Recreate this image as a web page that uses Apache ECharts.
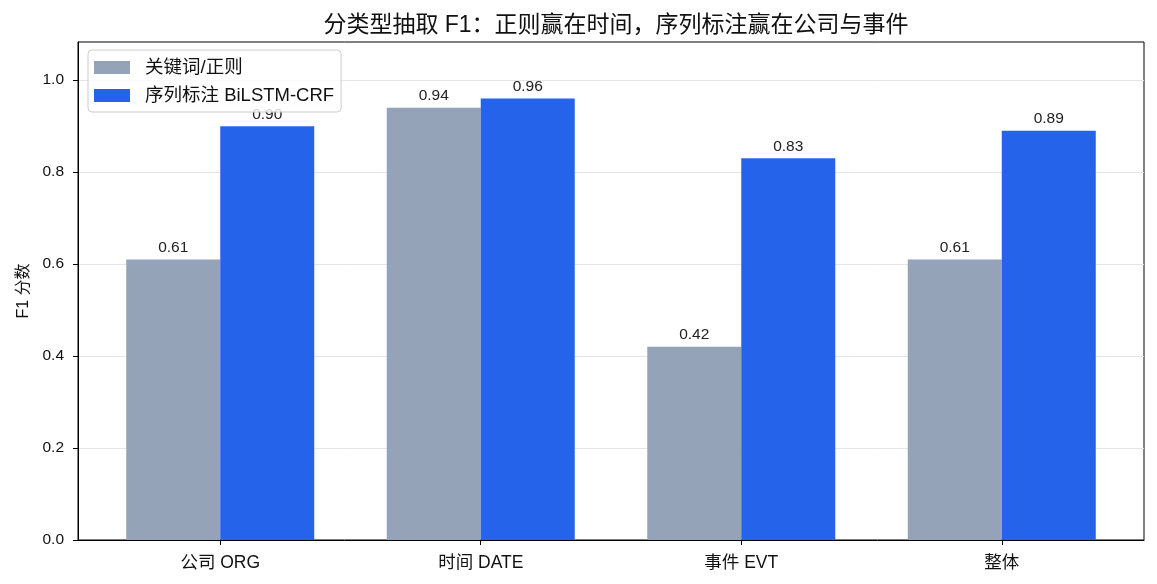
<!DOCTYPE html>
<html><head><meta charset="utf-8">
<script src="https://cdn.jsdelivr.net/npm/echarts@6/dist/echarts.min.js"></script>
<style>html,body{margin:0;padding:0;background:#fff}#c{width:1157px;height:584px}</style>
</head><body><div id="c"></div>
<script>
const categories = ['公司 ORG', '时间 DATE', '事件 EVT', '整体'];
const seriesNames = ['关键词/正则', '序列标注 BiLSTM-CRF'];
const ruleValues = [0.61, 0.94, 0.42, 0.61];
const crfValues = [0.90, 0.96, 0.83, 0.89];
const yTicks = [0, 0.2, 0.4, 0.6, 0.8, 1.0];
const titleText = '分类型抽取 F1：正则赢在时间，序列标注赢在公司与事件';
const yName = 'F1 分数';

const FONT = '"Liberation Sans", "Noto Sans CJK SC", sans-serif';
const chart = echarts.init(document.getElementById('c'), null, {renderer: 'canvas'});
const pos = categories.map((_, i) => i);
const mk = vals => vals.map((v, i) => [pos[i], v]);
const labelCfg = {show: true, position: 'top', distance: 4, color: '#222', fontSize: 15.5, fontFamily: FONT,
  formatter: p => p.value[1].toFixed(2)};
chart.setOption({
  animation: false,
  title: {text: titleText, left: 611, textAlign: 'center', top: 9,
    textStyle: {fontFamily: FONT, fontSize: 23, fontWeight: 'normal', color: '#111'}},
  grid: {left: 78, top: 42, width: 1066, height: 498, show: true, borderColor: '#000', borderWidth: 1, backgroundColor: 'transparent'},
  legend: {orient: 'vertical', left: 88, top: 50, itemWidth: 36, itemHeight: 13, itemGap: 7,
    padding: [7, 7, 6, 6], backgroundColor: 'rgba(255,255,255,0.8)', borderColor: '#ccc', borderWidth: 1, borderRadius: 4,
    textStyle: {fontFamily: FONT, fontSize: 18.5, color: '#111', lineHeight: 21, padding: [0, 0, 0, 10]}, icon: 'rect', data: seriesNames},
  xAxis: {type: 'value', min: -0.546, max: 3.546,
    axisLine: {show: true, onZero: false, lineStyle: {color: '#000'}},
    axisTick: {show: true, length: 5, lineStyle: {color: '#000'}, customValues: pos},
    axisLabel: {customValues: pos, formatter: v => categories[Math.round(v)] || '', fontFamily: FONT, fontSize: 17.5, color: '#111', margin: 14},
    splitLine: {show: false}},
  yAxis: {type: 'value', min: 0, max: 1.083, name: yName, nameLocation: 'middle', nameGap: 46,
    nameTextStyle: {fontFamily: FONT, fontSize: 16, color: '#111'},
    axisLine: {show: true, onZero: false, lineStyle: {color: '#000'}},
    axisTick: {show: true, length: 5, lineStyle: {color: '#000'}, customValues: yTicks},
    axisLabel: {customValues: yTicks, formatter: v => v.toFixed(1), fontFamily: FONT, fontSize: 15.5, color: '#111', margin: 14},
    splitLine: {show: true, lineStyle: {color: '#e5e5e5', width: 1}}},
  series: [
    {name: seriesNames[0], type: 'bar', data: mk(ruleValues), barWidth: 94, barGap: '0%', itemStyle: {color: '#94a3b8'}, label: labelCfg, z: 2},
    {name: seriesNames[1], type: 'bar', data: mk(crfValues), barWidth: 94, barGap: '0%', itemStyle: {color: '#2563eb'}, label: labelCfg, z: 2}
  ]
});
</script></body></html>
